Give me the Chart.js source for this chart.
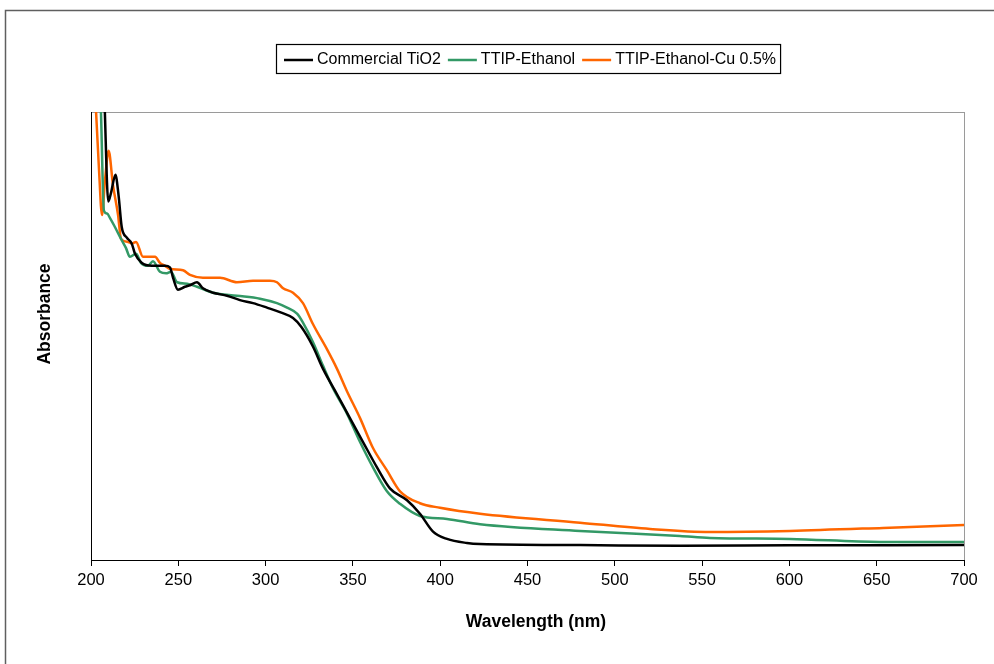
<!DOCTYPE html>
<html>
<head>
<meta charset="utf-8">
<title>UV-Vis absorbance</title>
<script src="https://cdn.jsdelivr.net/npm/chart.js@4.4.1/dist/chart.umd.min.js"></script>
<style>
  html, body { margin: 0; padding: 0; background: #fff; }
  canvas { display: block; }
</style>
</head>
<body>
<canvas id="absChart" width="994" height="664"></canvas>
<script>
const FONT = '"Liberation Sans", Arial, sans-serif';

// x axis ticks (nm)
const xTicks = [200, 250, 300, 350, 400, 450, 500, 550, 600, 650, 700];

// Commercial TiO2
const blackNm = [207.7, 209.9, 211.5, 214.0, 215.8, 217.6, 220.4, 223.3, 225.2, 229.0, 234.8, 242.4, 245.2,
  247.0, 249.8, 253.8, 256.7, 260.7, 264.1, 269.9, 277.9, 285.3, 292.8, 300.8, 308.2, 315.7, 320.5, 327.1,
  332.9, 340.9, 348.3, 355.8, 363.8, 371.2, 381.0, 388.4, 395.9, 403.9, 415.3, 422.8, 480.1, 537.3, 600, 700];
const blackAbs = [3.08, 2.40, 2.46, 2.58, 2.44, 2.23, 2.16, 2.12, 2.05, 1.99, 1.97, 1.97, 1.96,
  1.89, 1.81, 1.83, 1.84, 1.86, 1.82, 1.79, 1.77, 1.74, 1.72, 1.69, 1.66, 1.62, 1.56, 1.43,
  1.28, 1.11, 0.95, 0.79, 0.62, 0.48, 0.40, 0.31, 0.19, 0.141, 0.114, 0.107, 0.100, 0.095, 0.098, 0.100];

// TTIP-Ethanol
const greenNm = [204.6, 205.7, 207.4, 209.2, 210.9, 213.7, 217.2, 220.0, 222.3, 225.8, 228.6, 232.6, 235.5,
  239.5, 243.0, 245.8, 249.3, 255.0, 260.7, 269.9, 283.6, 296.8, 306.5, 312.3, 318.0, 321.4, 327.1, 332.9,
  338.6, 346.6, 354.1, 361.5, 369.5, 377.0, 388.4, 403.9, 422.8, 480.1, 537.3, 554.5, 600.3, 651.9, 700];
const greenAbs = [3.35, 3.00, 2.34, 2.32, 2.29, 2.23, 2.15, 2.09, 2.03, 2.05, 1.99, 1.97, 2.00,
  1.93, 1.92, 1.93, 1.86, 1.85, 1.83, 1.79, 1.77, 1.75, 1.72, 1.69, 1.65, 1.59, 1.46, 1.30,
  1.15, 0.98, 0.79, 0.62, 0.46, 0.376, 0.295, 0.275, 0.24, 0.195, 0.161, 0.148, 0.141, 0.121, 0.121];

// TTIP-Ethanol-Cu 0.5%
const orangeNm = [201.7, 202.9, 204.6, 206.3, 208.0, 210.1, 212.6, 215.5, 217.2, 221.2, 223.5, 225.8, 229.8,
  233.8, 236.7, 239.5, 242.4, 245.2, 252.7, 256.7, 264.1, 273.9, 283.6, 292.8, 302.5, 306.5, 310.0, 315.7,
  321.4, 327.1, 335.2, 340.9, 346.6, 354.1, 361.5, 369.5, 377.0, 388.4, 399.9, 422.8, 480.1, 520.2, 554.5,
  600.3, 653.6, 700];
const orangeAbs = [3.35, 3.00, 2.61, 2.31, 2.54, 2.74, 2.51, 2.31, 2.15, 2.13, 2.12, 2.13, 2.03,
  2.03, 2.03, 1.99, 1.97, 1.95, 1.94, 1.91, 1.89, 1.89, 1.86, 1.87, 1.87, 1.86, 1.82, 1.79,
  1.72, 1.58, 1.41, 1.28, 1.13, 0.95, 0.75, 0.60, 0.46, 0.38, 0.35, 0.31, 0.25, 0.208, 0.188,
  0.195, 0.215, 0.235];

const seriesLabels = ['Commercial TiO2', 'TTIP-Ethanol', 'TTIP-Ethanol-Cu 0.5%'];
const seriesColors = ['#000000', '#339966', '#ff6600'];

const toPoints = (xs, ys) => xs.map((x, i) => ({ x: x, y: ys[i] }));

// frame, plot border, legend box and axis titles
const decorations = {
  id: 'decorations',
  beforeDraw(chart) {
    const { ctx, chartArea: a } = chart;
    ctx.save();
    ctx.fillStyle = '#fff';
    ctx.fillRect(0, 0, chart.width, chart.height);
    ctx.strokeStyle = '#5f5f5f';
    ctx.lineWidth = 1.5;
    ctx.beginPath();
    ctx.moveTo(5.5, chart.height);
    ctx.lineTo(5.5, 10.5);
    ctx.lineTo(chart.width, 10.5);
    ctx.stroke();
    ctx.strokeStyle = '#9a9a9a';
    ctx.lineWidth = 1;
    ctx.strokeRect(a.left + 0.5, a.top + 0.5, a.right - a.left, a.bottom - a.top);
    ctx.restore();
  },
  afterDraw(chart) {
    const { ctx } = chart;
    ctx.save();

    // legend
    ctx.font = '16px ' + FONT;
    ctx.textBaseline = 'middle';
    const sample = 29, gapText = 4, gapItem = 7, padL = 8, padR = 4;
    const widths = chart.data.datasets.map(ds => ctx.measureText(ds.label).width);
    let total = padL + padR;
    widths.forEach((w, i) => { total += sample + gapText + w + (i < widths.length - 1 ? gapItem : 0); });
    const boxLeft = Math.round(528 - total / 2), boxTop = 44, boxH = 29;
    const cy = boxTop + boxH / 2 + 1.5;
    let x = boxLeft + padL;
    chart.data.datasets.forEach((ds, i) => {
      ctx.strokeStyle = ds.borderColor;
      ctx.lineWidth = 2.5;
      ctx.beginPath();
      ctx.moveTo(x, cy);
      ctx.lineTo(x + sample, cy);
      ctx.stroke();
      ctx.fillStyle = '#000';
      ctx.fillText(ds.label, x + sample + gapText, cy);
      x += sample + gapText + widths[i] + gapItem;
    });
    ctx.strokeStyle = '#000';
    ctx.lineWidth = 1.2;
    ctx.strokeRect(boxLeft + 0.5, boxTop + 0.5, total, boxH);

    // axis titles
    ctx.fillStyle = '#000';
    ctx.font = 'bold 17.5px ' + FONT;
    ctx.textAlign = 'center';
    ctx.textBaseline = 'alphabetic';
    ctx.fillText('Wavelength (nm)', 536, 627);
    ctx.translate(50, 314);
    ctx.rotate(-Math.PI / 2);
    ctx.fillText('Absorbance', 0, 0);
    ctx.restore();
  }
};

new Chart(document.getElementById('absChart'), {
  type: 'line',
  data: {
    datasets: [
      { label: seriesLabels[0], data: toPoints(blackNm, blackAbs), borderColor: seriesColors[0] },
      { label: seriesLabels[1], data: toPoints(greenNm, greenAbs), borderColor: seriesColors[1] },
      { label: seriesLabels[2], data: toPoints(orangeNm, orangeAbs), borderColor: seriesColors[2] }
    ].map(ds => Object.assign(ds, {
      borderWidth: 2.5,
      pointRadius: 0,
      fill: false,
      cubicInterpolationMode: 'monotone'
    }))
  },
  options: {
    responsive: false,
    animation: false,
    events: [],
    layout: { padding: { top: 112, right: 30, bottom: 0, left: 0 } },
    plugins: { legend: { display: false }, tooltip: { enabled: false } },
    scales: {
      x: {
        type: 'linear',
        min: 200,
        max: 700,
        afterBuildTicks: (scale) => { scale.ticks = xTicks.map(v => ({ value: v })); },
        ticks: { color: '#000', font: { family: FONT, size: 16.5 }, padding: 5, maxRotation: 0, autoSkip: false },
        grid: { drawOnChartArea: false, drawTicks: true, tickLength: 6, color: '#000' },
        border: { color: '#000', width: 1 },
        afterFit: (scale) => { scale.height = 104; }
      },
      y: {
        min: 0,
        max: 3,
        ticks: { display: false },
        grid: { display: false },
        border: { color: '#000', width: 1 },
        afterFit: (scale) => { scale.width = 91; }
      }
    }
  },
  plugins: [decorations]
});
</script>
</body>
</html>
